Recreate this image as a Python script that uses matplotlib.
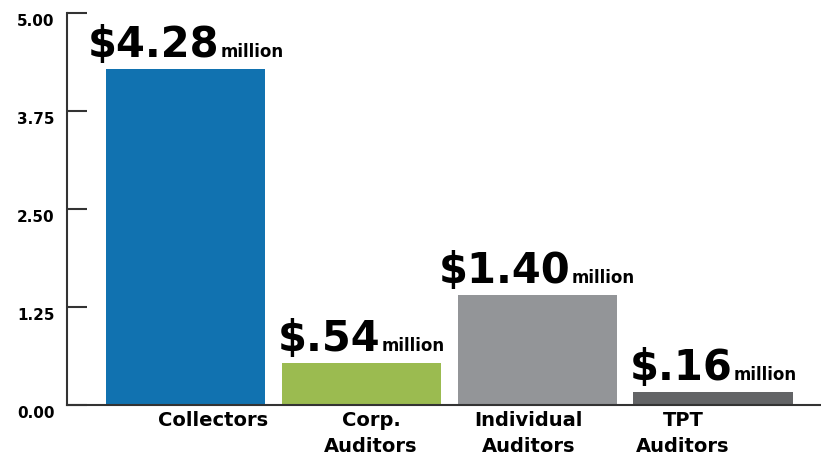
import matplotlib
matplotlib.use("Agg")
import matplotlib.pyplot as plt
import matplotlib.transforms as mtransforms
import numpy as np

categories = ["Collectors", "Corp.\nAuditors", "Individual\nAuditors", "TPT\nAuditors"]
values = [4.28, 0.54, 1.40, 0.16]
value_labels = ["$4.28", "$.54", "$1.40", "$.16"]
colors = ["#1172B0", "#9BBB50", "#939598", "#636466"]
yticks = [0.0, 1.25, 2.5, 3.75, 5.0]
label_shift = [0.157, 0.054, -0.05, -0.17]

plt.rcParams["font.family"] = ["DejaVu Sans"]

fig = plt.figure(figsize=(8.21, 4.56), dpi=100)
ax = fig.add_axes([0.0816, 0.1096, 0.9184, 0.8596])

x = np.arange(len(values))
ax.bar(x, values, width=0.906, color=colors, edgecolor="none")
ax.set_xlim(-0.675, 3.615)
ax.set_ylim(0, 5)

for s in ["top", "right"]:
    ax.spines[s].set_visible(False)
for s in ["left", "bottom"]:
    ax.spines[s].set_color("#333333")
    ax.spines[s].set_linewidth(1.5)

ax.set_xticks([])
ax.set_yticks(yticks)
ax.set_yticklabels(["%.2f" % t for t in yticks])
ax.tick_params(axis="y", direction="in", length=14.5, width=1.5, color="#333333",
               pad=9, labelsize=11)
shift = mtransforms.ScaledTranslation(0, -6 / 100, fig.dpi_scale_trans)
for lab in ax.get_yticklabels():
    lab.set_fontweight("bold")
    lab.set_transform(lab.get_transform() + shift)

# category labels under the axis
for xi, cat, dx in zip(x, categories, label_shift):
    ax.text(xi + dx, -0.06, cat, ha="center", va="top", fontsize=14,
            fontweight="bold", linespacing=1.5,
            transform=ax.transData)

# value labels: big number + small "million", centered over bar
fig.canvas.draw()
renderer = fig.canvas.get_renderer()
for xi, v, lab in zip(x, values, value_labels):
    big = ax.text(0, 0, lab, fontsize=30, fontweight="bold", ha="left", va="baseline")
    small = ax.text(0, 0, "million", fontsize=12, fontweight="bold", ha="left", va="baseline")
    wb = big.get_window_extent(renderer).width
    ws = small.get_window_extent(renderer).width
    total = wb + ws + 1
    cx, cy = ax.transData.transform((xi, v))
    bx = cx - total / 2
    by = cy + 13
    inv = ax.transData.inverted()
    big.set_position(inv.transform((bx, by)))
    small.set_position(inv.transform((bx + wb + 1, by)))

fig.savefig("out.png", dpi=100)
